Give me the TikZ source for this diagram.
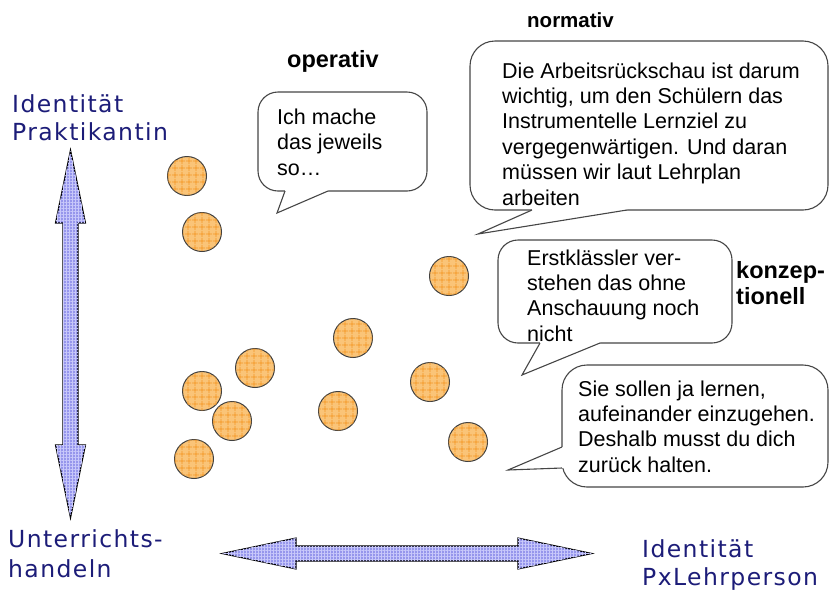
\documentclass[tikz,border=0pt]{standalone}
\usepackage{fontspec}
\setmainfont{Liberation Sans}
\newfontfamily\axisfont[LetterSpace=6]{DejaVu Sans}
\usetikzlibrary{patterns.meta}
\definecolor{axisnavy}{RGB}{28,28,120}
\definecolor{dotfill}{RGB}{250,196,120}
\definecolor{dotgrid}{RGB}{244,150,35}
\definecolor{arrowfill}{RGB}{150,150,236}
\definecolor{arrowgrid}{RGB}{200,200,250}
\definecolor{bubbleline}{RGB}{70,70,70}

% multi-line nodes below are placed by the baseline of their last line
\tikzset{
  dot/.style={circle, draw=black!75, line width=1pt, minimum size=39pt, inner sep=0pt,
    fill=dotfill, postaction={pattern={Hatch[angle=0,distance=6.5pt,line width=0.7pt]}, pattern color=dotgrid}},
  axislabel/.style={font=\axisfont\fontsize{23.5}{28.5}\selectfont, text=axisnavy, align=left, anchor=base west, inner sep=0pt},
  speech/.style={font=\fontsize{21.5}{25.3}\selectfont, align=left, anchor=base west, inner sep=0pt},
  tag/.style={font=\bfseries\fontsize{23.5}{26}\selectfont, align=left, anchor=base west, inner sep=0pt},
  bubble/.style={draw=bubbleline, line width=1.1pt, fill=white, rounded corners=20pt},
  bigbubble/.style={bubble, rounded corners=25pt},
  tailside/.style={draw=bubbleline, line width=1.1pt},
  bigarrow/.style={draw=black, line width=1.1pt, fill=arrowfill,
    postaction={pattern={Hatch[angle=0,distance=3pt,line width=0.6pt]}, pattern color=arrowgrid}}
}

\begin{document}
\begin{tikzpicture}[x=1pt,y=-1pt]
\useasboundingbox (0,0) rectangle (829,592);

% double-headed axis arrows
\draw[bigarrow] (70.5,150) -- (85.5,223) -- (78,223) -- (78,445) -- (85.5,445) -- (70.5,518)
  -- (55.5,445) -- (63,445) -- (63,223) -- (55.5,223) -- cycle;
\draw[bigarrow] (222,553.5) -- (296,538) -- (296,546) -- (518,546) -- (518,538) -- (592,553.5)
  -- (518,569) -- (518,561) -- (296,561) -- (296,569) -- cycle;

% axis labels
\node[axislabel] (ytop) at (12,140.5) {Identität\\Praktikantin};
\node[axislabel, font=\axisfont\fontsize{23.5}{29.5}\selectfont] (ybottom) at (8,577) {Unterrichts-\\handeln};
\node[axislabel, font=\axisfont\fontsize{23.5}{27.5}\selectfont] (xright) at (642,585) {Identität\\PxLehrperson};

% positions
\node[dot] (c1) at (187,176) {};
\node[dot] (c2) at (202,232) {};
\node[dot] (c3) at (255,368) {};
\node[dot] (c4) at (202,391) {};
\node[dot] (c5) at (232,421) {};
\node[dot] (c6) at (194,459) {};
\node[dot] (c7) at (353,338) {};
\node[dot] (c8) at (449,276) {};
\node[dot] (c9) at (430,382) {};
\node[dot] (c10) at (338,411) {};
\node[dot] (c11) at (468,442) {};

% speech bubbles
\draw[bubble] (258,92) rectangle (427,191);
\fill[white] (285,188) -- (328,188) -- (328,191) -- (277,213) -- (285,191) -- cycle;
\draw[tailside] (285,191) -- (277,213) -- (328,191);

\draw[bigbubble] (470,41) rectangle (828,210);
\fill[white] (532,207) -- (627,207) -- (627,210) -- (478,234) -- (532,210) -- cycle;
\draw[tailside] (532,210) -- (478,234) -- (627,210);

\draw[bubble] (498,240) rectangle (732,343);
\fill[white] (540,340) -- (600,340) -- (600,343) -- (522,375) -- (540,343) -- cycle;
\draw[tailside] (540,343) -- (522,375) -- (600,343);

\draw[bigbubble] (562,365) rectangle (828,487);
\fill[white] (565,447) -- (565,468) -- (562,468) -- (508,470) -- (562,447) -- cycle;
\draw[tailside] (562,447) -- (508,470) -- (562,468);

% bubble texts
\node[speech] (s1) at (277,175) {Ich mache\\das jeweils\\so…};
\node[speech, font=\fontsize{21.5}{25.4}\selectfont] (s2) at (502,205) {Die Arbeitsrückschau ist darum\\wichtig, um den Schülern das\\Instrumentelle Lernziel zu\\vergegenwärtigen. Und daran\\müssen wir laut Lehrplan\\arbeiten};
\node[speech] (s3) at (527,341) {Erstklässler ver-\\stehen das ohne\\Anschauung noch\\nicht};
\node[speech] (s4) at (578,472) {Sie sollen ja lernen,\\aufeinander einzugehen.\\Deshalb musst du dich\\zurück halten.};

% categories
\node[tag] (operativ) at (287,67) {operativ};
\node[tag, font=\bfseries\fontsize{20.5}{24}\selectfont] (normativ) at (527,27) {normativ};
\node[tag] (konzeptionell) at (736,304) {konzep-\\tionell};
\end{tikzpicture}
\end{document}
